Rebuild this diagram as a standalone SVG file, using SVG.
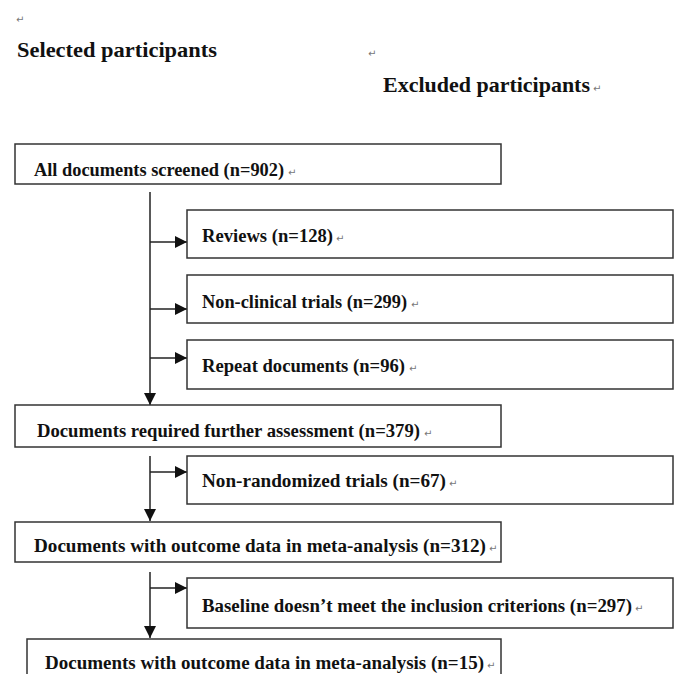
<svg xmlns="http://www.w3.org/2000/svg" width="675" height="674" viewBox="0 0 675 674">
<style>
.bg{fill:#fff}
.box{fill:#fff;stroke:#333;stroke-width:1.5}
.t{font-family:"Liberation Serif","Times New Roman",serif;font-weight:bold;font-size:18px;fill:#111}
.h{font-family:"Liberation Serif","Times New Roman",serif;font-weight:bold;font-size:21px;fill:#111}
.pm{font-family:"DejaVu Sans",sans-serif;font-size:10px;fill:#777}
.ln{fill:none;stroke:#222;stroke-width:1.5}
</style>
<defs>
<marker id="ah" viewBox="0 0 12 12" refX="12" refY="6" markerWidth="12" markerHeight="12" markerUnits="userSpaceOnUse" orient="auto">
<path d="M0,0 L12,6 L0,12 Z" fill="#111"/>
</marker>
</defs>
<rect class="bg" x="0" y="0" width="675" height="674"/>
<g id="headers">
<text class="pm" x="16" y="23">↵</text>
<text class="h" x="17" y="57" textLength="200" lengthAdjust="spacingAndGlyphs">Selected participants</text>
<text class="pm" x="368" y="57">↵</text>
<text class="h" x="383" y="92" textLength="207" lengthAdjust="spacingAndGlyphs">Excluded participants</text>
<text class="pm" x="593" y="92">↵</text>
</g>
<g id="connectors">
<path class="ln" d="M150,192 V405" marker-end="url(#ah)"/>
<path class="ln" d="M150,242 H187" marker-end="url(#ah)"/>
<path class="ln" d="M150,309 H187" marker-end="url(#ah)"/>
<path class="ln" d="M150,358 H187" marker-end="url(#ah)"/>
<path class="ln" d="M150,456 V521" marker-end="url(#ah)"/>
<path class="ln" d="M150,472 H187" marker-end="url(#ah)"/>
<path class="ln" d="M150,572 V638" marker-end="url(#ah)"/>
<path class="ln" d="M150,588 H187" marker-end="url(#ah)"/>
</g>
<g id="n1">
<rect class="box" x="15" y="144" width="486" height="40"/>
<text class="t" x="34" y="176" textLength="250" lengthAdjust="spacingAndGlyphs">All documents screened (n=902)</text>
<text class="pm" x="288" y="176">↵</text>
</g>
<g id="n2">
<rect class="box" x="187" y="210" width="486" height="48"/>
<text class="t" x="202" y="242" textLength="131" lengthAdjust="spacingAndGlyphs">Reviews (n=128)</text>
<text class="pm" x="336" y="242">↵</text>
</g>
<g id="n3">
<rect class="box" x="187" y="275" width="486" height="48"/>
<text class="t" x="202" y="308" textLength="205" lengthAdjust="spacingAndGlyphs">Non-clinical trials (n=299)</text>
<text class="pm" x="411" y="308">↵</text>
</g>
<g id="n4">
<rect class="box" x="187" y="340" width="486" height="49"/>
<text class="t" x="202" y="372" textLength="203" lengthAdjust="spacingAndGlyphs">Repeat documents (n=96)</text>
<text class="pm" x="409" y="372">↵</text>
</g>
<g id="n5">
<rect class="box" x="15" y="405" width="486" height="42"/>
<text class="t" x="37" y="437" textLength="383" lengthAdjust="spacingAndGlyphs">Documents required further assessment (n=379)</text>
<text class="pm" x="424" y="437">↵</text>
</g>
<g id="n6">
<rect class="box" x="187" y="456" width="486" height="48"/>
<text class="t" x="202" y="487" textLength="244" lengthAdjust="spacingAndGlyphs">Non-randomized trials (n=67)</text>
<text class="pm" x="449" y="487">↵</text>
</g>
<g id="n7">
<rect class="box" x="15" y="522" width="486" height="40"/>
<text class="t" x="34" y="552" textLength="452" lengthAdjust="spacingAndGlyphs">Documents with outcome data in meta-analysis (n=312)</text>
<text class="pm" x="489" y="552">↵</text>
</g>
<g id="n8">
<rect class="box" x="187" y="578" width="486" height="50"/>
<text class="t" x="202" y="612" textLength="430" lengthAdjust="spacingAndGlyphs">Baseline doesn’t meet the inclusion criterions (n=297)</text>
<text class="pm" x="635" y="612">↵</text>
</g>
<g id="n9">
<rect class="box" x="27" y="639" width="474" height="50"/>
<text class="t" x="45" y="669" textLength="439" lengthAdjust="spacingAndGlyphs">Documents with outcome data in meta-analysis (n=15)</text>
<text class="pm" x="487" y="669">↵</text>
</g>
</svg>
